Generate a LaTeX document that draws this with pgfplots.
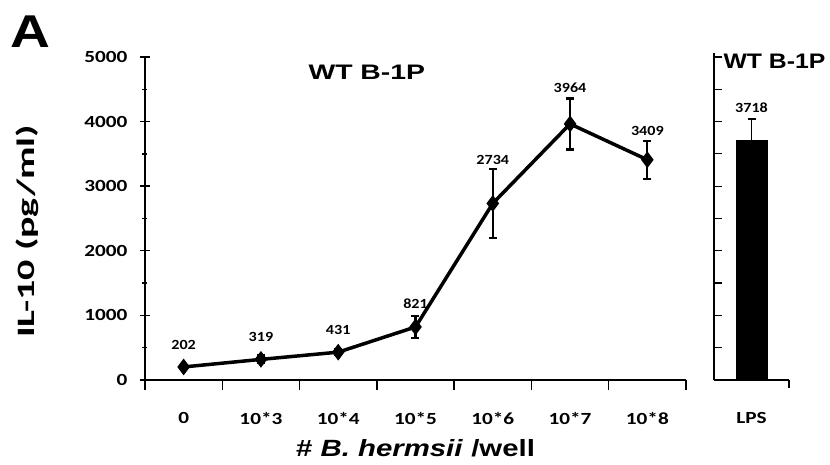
\documentclass[border=0pt]{standalone}
\usepackage{pgfplots}
\pgfplotsset{compat=1.18}
\usepackage{fontspec}
\setmainfont{Liberation Sans}
\newfontfamily\tickf[FakeStretch=1.25]{Carlito}
\newfontfamily\valf[FakeStretch=1.15]{Carlito}
\newfontfamily\titf[FakeStretch=1.35]{Liberation Sans}
\newfontfamily\rtitf[FakeStretch=1.18]{Liberation Sans}
\newfontfamily\xlabf[FakeStretch=1.25]{Liberation Sans}
\newfontfamily\ylabf[FakeStretch=1.6]{Carlito}
\newfontfamily\bigf[FakeStretch=1.2]{Liberation Sans}
\begin{document}
\begin{tikzpicture}[x=1pt,y=1pt]
\useasboundingbox (-145,-85) rectangle (685,380);
\node[font=\bigf\bfseries\fontsize{46}{46}\selectfont] at (-115,348) {A};
\begin{axis}[
  at={(0pt,0pt)}, anchor=south west,
  scale only axis, width=541pt, height=323pt,
  xmin=-0.5, xmax=6.5, ymin=0, ymax=5000,
  axis x line=bottom, axis y line=left,
  axis line style={-, line width=1.6pt},
  every tick/.style={black, line width=1.4pt},
  xtick={-0.5,0.5,...,6.5}, xticklabels={},
  xtick align=outside, ytick align=center,
  major tick length=10pt, minor tick length=5pt,
  extra x ticks={0,1,2,3,4,5,6},
  extra x tick labels={0,10*3,10*4,10*5,10*6,10*7,10*8},
  extra x tick style={major tick length=0pt, xticklabel style={yshift=-29pt}},
  ytick={0,1000,...,5000}, minor ytick={500,1500,...,4500},
  /pgf/number format/assume math mode=true,
  /pgf/number format/1000 sep={},
  ticklabel style={font=\tickf\bfseries\fontsize{17}{17}\selectfont},
  yticklabel style={xshift=-9pt},
  title={WT B-1P},
  title style={at={(0.41,0.935)}, anchor=center, font=\titf\bfseries\fontsize{21}{21}\selectfont},
  xlabel={\# \textit{B. hermsii} /well},
  xlabel style={at={(axis description cs:0.5,-0.212)}, anchor=center, font=\xlabf\bfseries\fontsize{23.5}{23.5}\selectfont},
  ylabel={IL-10 (pg/ml)},
  ylabel style={at={(axis description cs:-0.218,0.46)}, anchor=center, font=\ylabf\bfseries\fontsize{25}{25}\selectfont},
  clip=false,
]
\addplot[black, line width=3.5pt, mark=diamond*, mark size=5.5pt,
  error bars/.cd, y dir=both, y explicit,
  error bar style={line width=2.2pt},
  error mark options={rotate=90, mark size=4pt, line width=2.2pt}]
  table[x=x, y=y, y error=e] {
x y e
0 202 30
1 319 60
2 431 40
3 821 170
4 2734 530
5 3964 395
6 3409 295
};
\addplot[draw=none, mark=none, nodes near coords, point meta=explicit symbolic,
  nodes near coords style={anchor=center, font=\valf\bfseries\fontsize{14}{14}\selectfont}]
  table[x=x, y=ly, meta=v] {
x ly v
0 542 202
1 666 319
2 774 431
3 1176 821
4 3406 2734
5 4520 3964
6 3854 3409
};
\end{axis}
\begin{axis}[
  at={(569pt,0pt)}, anchor=south west,
  scale only axis, width=75pt, height=327pt,
  xmin=-1, xmax=1, ymin=0, ymax=5062,
  axis x line=bottom, axis y line=left,
  axis line style={-, line width=1.6pt},
  every tick/.style={black, line width=1.2pt},
  xtick={1}, xticklabels={}, xtick align=outside, major tick length=8pt,
  extra x ticks={0}, extra x tick labels={LPS},
  extra x tick style={major tick length=0pt, xticklabel style={yshift=-29pt}},
  ytick={0,500,...,5000}, yticklabels={}, ytick align=inside,
  ticklabel style={font=\tickf\bfseries\fontsize{17}{17}\selectfont},
  title={WT B-1P},
  title style={at={(0.08,0.955)}, anchor=west, font=\rtitf\bfseries\fontsize{21}{21}\selectfont},
  clip=false,
]
\addplot[ybar, fill=black, draw=black, bar width=31pt,
  error bars/.cd, y dir=plus, y explicit,
  error bar style={line width=1.4pt},
  error mark options={rotate=90, mark size=4pt, line width=1.4pt}]
  coordinates {(0,3718) +- (0,320)};
\addplot[draw=none, mark=none, nodes near coords, point meta=explicit symbolic,
  nodes near coords style={anchor=center, font=\valf\bfseries\fontsize{14}{14}\selectfont}]
  coordinates {(0,4210) [3718]};
\end{axis}
\end{tikzpicture}
\end{document}
